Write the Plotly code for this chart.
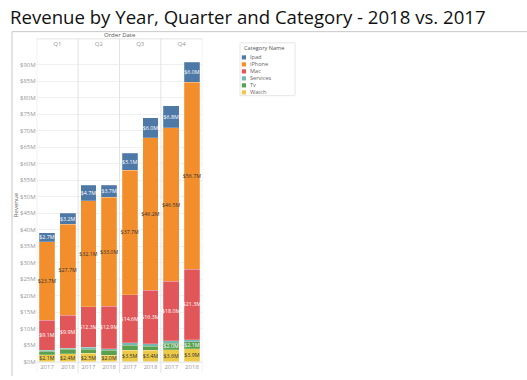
import plotly.graph_objects as go

quarters = ["Q1", "Q2", "Q3", "Q4"]
years = ["2017", "2018"]
categories = ["Ipad", "iPhone", "Mac", "Services", "Tv", "Watch"]
colors = ["#4E79A7", "#F28E2B", "#E15759", "#76B7B2", "#59A14F", "#EDC948"]
label_colors = ["#ffffff", "#333333", "#ffffff", "#ffffff", "#ffffff", "#333333"]

# Revenue ($M); order: Q1 2017, Q1 2018, Q2 2017, Q2 2018, Q3 2017, Q3 2018, Q4 2017, Q4 2018
ipad = [2.7, 3.2, 4.7, 3.7, 5.1, 6.0, 6.8, 6.0]
iphone = [23.7, 27.7, 32.1, 33.0, 37.7, 46.2, 46.5, 56.7]
mac = [9.1, 9.9, 12.3, 12.9, 14.6, 16.3, 18.0, 21.3]
services = [0.3, 0.4, 0.5, 0.4, 0.7, 0.7, 0.7, 0.7]
tv = [1.1, 1.3, 1.3, 1.5, 1.5, 1.3, 2.0, 2.1]
watch = [2.1, 2.4, 2.5, 2.0, 3.5, 3.4, 3.6, 3.9]

series = {"Ipad": ipad, "iPhone": iphone, "Mac": mac,
          "Services": services, "Tv": tv, "Watch": watch}

x_keys = [f"{q} {y}" for q in quarters for y in years]
x_years = [y for q in quarters for y in years]

W, H = 527, 380
def px(x):
    return x / W
def py(y):
    return 1 - y / H

FONT = "Open Sans"
fig = go.Figure()

# stack bottom -> top: Watch, Tv, Services, Mac, iPhone, Ipad
for name in reversed(categories):
    i = categories.index(name)
    vals = series[name]
    txt = [f"${v:.1f}M" if v >= 1.8 else "" for v in vals]
    fig.add_trace(go.Bar(
        x=x_keys, y=vals, name=name, text=txt,
        textposition="inside", insidetextanchor="middle", textangle=0,
        textfont=dict(size=5.3, color=label_colors[i], family=FONT),
        marker=dict(color=colors[i], line=dict(color="rgba(255,255,255,0.35)", width=0.6)),
        showlegend=False, hoverinfo="x+y+name",
    ))

# invisible trace for quarter header axis
fig.add_trace(go.Scatter(x=quarters, y=[0] * len(quarters), xaxis="x2", yaxis="y",
                         mode="markers", marker=dict(opacity=0), showlegend=False, hoverinfo="skip"))

x0, x1 = 36.7, 202.3
y_zero = 365.5
scale = 3.336
yrange_max = 94.9
y_top = y_zero - yrange_max * scale

fig.update_layout(
    width=W, height=H,
    margin=dict(l=0, r=0, t=0, b=0),
    paper_bgcolor="white", plot_bgcolor="white",
    barmode="stack", bargap=0.25,
    font=dict(family=FONT, color="#888888", size=6),
    uniformtext=dict(mode="show", minsize=5.3),
    title=dict(text="Revenue by Year, Quarter and Category - 2018 vs. 2017",
               x=px(10), xanchor="left", y=py(17), yanchor="middle",
               font=dict(family=FONT, size=18.6, color="#111111")),
    xaxis=dict(type="category", categoryorder="array", categoryarray=x_keys,
               tickvals=x_keys, ticktext=x_years, range=[-0.5, 7.5],
               domain=[px(x0), px(x1)], showgrid=False, zeroline=False,
               showline=False, ticks="", tickfont=dict(size=6, color="#999999")),
    xaxis2=dict(type="category", categoryorder="array", categoryarray=quarters,
                range=[-0.5, 3.5], overlaying="x", side="top", anchor="y",
                domain=[px(x0), px(x1)], showgrid=False, zeroline=False,
                showline=False, ticks="", tickfont=dict(size=6, color="#999999")),
    yaxis=dict(range=[0, yrange_max], domain=[py(y_zero), py(y_top)],
               dtick=5, tickprefix="$", ticksuffix="M", showgrid=True,
               gridcolor="#f0f0f0", gridwidth=1, zeroline=False, ticks="",
               tickfont=dict(size=6, color="#999999"),
               title=dict(text="Revenue", font=dict(size=6, color="#666666"), standoff=0)),
)

shapes = []
line_c = "#e3e3e3"
# outer frame
shapes.append(dict(type="line", xref="paper", yref="paper", x0=px(12), x1=1, y0=py(32), y1=py(32),
                   line=dict(color="#c8c8c8", width=1)))
shapes.append(dict(type="line", xref="paper", yref="paper", x0=px(12), x1=px(12), y0=py(32), y1=0,
                   line=dict(color="#c8c8c8", width=1)))
# header line
shapes.append(dict(type="line", xref="paper", yref="paper", x0=px(x0), x1=px(x1), y0=py(39.3), y1=py(39.3),
                   line=dict(color=line_c, width=1)))
# bottom axis line
shapes.append(dict(type="line", xref="paper", yref="paper", x0=px(x0), x1=px(x1), y0=py(366), y1=py(366),
                   line=dict(color=line_c, width=1)))
# panel separators
for xv in [-0.5, 1.5, 3.5, 5.5, 7.5]:
    shapes.append(dict(type="line", xref="x", yref="paper", x0=xv, x1=xv, y0=py(377), y1=py(39.3),
                       line=dict(color=line_c, width=1)))

# legend box
lx0, lx1, ly0, ly1 = 240, 295, 43.3, 96.7
shapes.append(dict(type="rect", xref="paper", yref="paper", x0=px(lx0), x1=px(lx1), y0=py(ly1), y1=py(ly0),
                   line=dict(color="#e6e6e6", width=1), fillcolor="white"))
annotations = [
    dict(text="Order Date", xref="paper", yref="paper", x=px((x0 + x1) / 2), y=py(35.7),
         showarrow=False, font=dict(size=6, color="#555555"), xanchor="center", yanchor="middle"),
    dict(text="Category Name", xref="paper", yref="paper", x=px(241.5), y=py(49),
         showarrow=False, font=dict(size=5.6, color="#555555"), xanchor="left", yanchor="middle"),
]
for k, (name, col) in enumerate(zip(categories, colors)):
    yc = 58 + k * 7.07
    shapes.append(dict(type="rect", xref="paper", yref="paper", x0=px(241.8), x1=px(246),
                       y0=py(yc + 2.1), y1=py(yc - 2.1), line=dict(width=0), fillcolor=col))
    annotations.append(dict(text=name, xref="paper", yref="paper", x=px(248), y=py(yc),
                            showarrow=False, font=dict(size=5.6, color="#666666"),
                            xanchor="left", yanchor="middle"))

fig.update_layout(shapes=shapes, annotations=annotations)
fig.write_html("out.html", config={"displayModeBar": False},
               post_script="document.body.style.margin='0px';")
